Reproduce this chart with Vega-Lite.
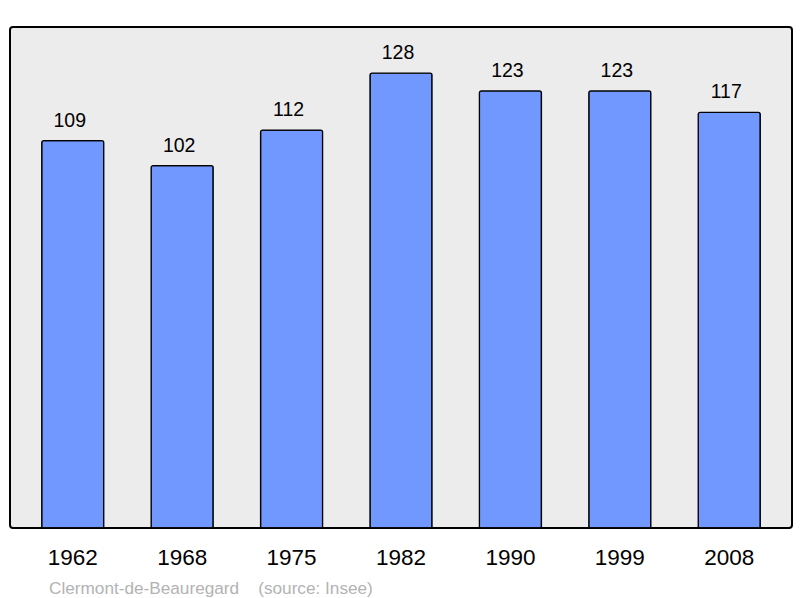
{
  "$schema": "https://vega.github.io/schema/vega-lite/v6.json",
  "autosize": "none",
  "width": 782,
  "height": 501,
  "padding": {"left": 10, "top": 27, "right": 8, "bottom": 70},
  "background": "white",
  "config": {
    "view": {"fill": "#ececec", "stroke": "#000000", "strokeWidth": 2, "cornerRadius": 3},
    "font": "Liberation Sans"
  },
  "title": {
    "text": "Clermont-de-Beauregard\u00a0\u00a0\u00a0\u00a0(source: Insee)",
    "orient": "bottom",
    "anchor": "start",
    "frame": "group",
    "dx": 39,
    "offset": 11,
    "fontSize": 17.2,
    "fontWeight": "normal",
    "color": "#b3b3b3",
    "font": "Liberation Sans"
  },
  "data": {
    "values": [
      {"year": "1962", "pop": 109},
      {"year": "1968", "pop": 102},
      {"year": "1975", "pop": 112},
      {"year": "1982", "pop": 128},
      {"year": "1990", "pop": 123},
      {"year": "1999", "pop": 123},
      {"year": "2008", "pop": 117}
    ]
  },
  "encoding": {
    "x": {
      "field": "year",
      "type": "ordinal",
      "sort": null,
      "scale": {"paddingInner": 0.433, "paddingOuter": 0.29},
      "axis": {
        "title": null,
        "domain": false,
        "ticks": false,
        "labelAngle": 0,
        "labelFontSize": 22.5,
        "labelColor": "#000000",
        "labelPadding": 18,
        "labelFont": "Liberation Sans"
      }
    },
    "y": {
      "field": "pop",
      "type": "quantitative",
      "scale": {"domain": [0, 141], "nice": false},
      "axis": null
    }
  },
  "layer": [
    {
      "mark": {"type": "bar", "fill": "#7098ff", "stroke": "#000000", "strokeWidth": 1.3, "cornerRadiusTopLeft": 2, "cornerRadiusTopRight": 2}
    },
    {
      "mark": {"type": "text", "baseline": "alphabetic", "dy": -14, "dx": -3, "fontSize": 19.5, "color": "#000000", "font": "Liberation Sans"},
      "encoding": {"text": {"field": "pop", "type": "quantitative"}}
    }
  ]
}
